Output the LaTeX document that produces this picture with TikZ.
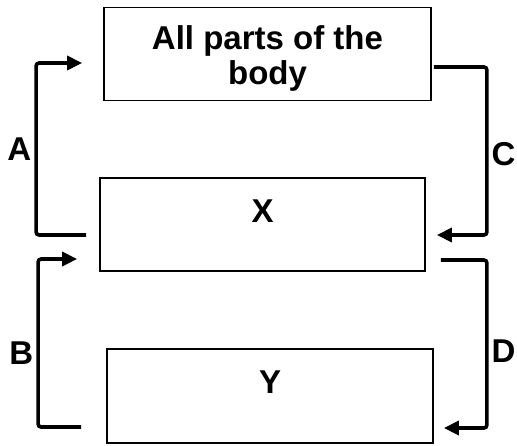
\documentclass[tikz,border=0pt]{standalone}
\usepackage{fontspec}
\setmainfont{Liberation Sans}
\usetikzlibrary{positioning,arrows.meta}

\begin{document}
\begin{tikzpicture}[x=0.5pt,y=-0.5pt,>={Triangle[length=7.5pt,width=7pt]},
  box/.style={draw,line width=0.9pt,minimum height=46.5pt,inner sep=0pt},
  txt/.style={font=\fontsize{16.5}{17.5}\selectfont\bfseries,inner sep=0pt,align=center},
  flow/.style={->,line width=1.8pt,rounded corners=1.5pt}]
\useasboundingbox (0,0) rectangle (517,445);
\node[box,minimum width=163.5pt] (body) at (267.5,54) {};
\node[box,minimum width=162.5pt] (x) at (262.5,224.5) {};
\node[box,minimum width=163pt,minimum height=47pt] (y) at (270,396) {};
\node[txt,below=9.5pt of body.north] (bodytext) {All parts of the\\body};
\node[txt,below=11pt of x.north] (xtext) {X};
\node[txt,below=11pt of y.north] (ytext) {Y};
% free ends of the four arrows
\coordinate (a1) at ([shift={(-13,10.5)}]x.west);
\coordinate (a2) at ([shift={(-21,9)}]body.west);
\coordinate (c1) at ([shift={(2,13)}]body.east);
\coordinate (c2) at ([shift={(11,10.5)}]x.east);
\coordinate (d1) at ([shift={(15,35.5)}]x.east);
\coordinate (d2) at ([shift={(10,32)}]y.east);
\coordinate (b1) at ([shift={(-25,31)}]y.west);
\coordinate (b2) at ([shift={(-22,34.5)}]x.west);
\draw[flow] (a1) -- ++(-50,0) |- node[txt,pos=0.25,left=1.5pt] (alabel) {A} (a2);
\draw[flow] (c1) -- ++(53,0) |- node[txt,pos=0.26,right=1.5pt] (clabel) {C} (c2);
\draw[flow] (b1) -- ++(-43,0) |- node[txt,pos=0.22,left=1.5pt] (blabel) {B} (b2);
\draw[flow] (d1) -- ++(46,0) |- node[txt,pos=0.27,right=1.5pt] (dlabel) {D} (d2);
\end{tikzpicture}
\end{document}
